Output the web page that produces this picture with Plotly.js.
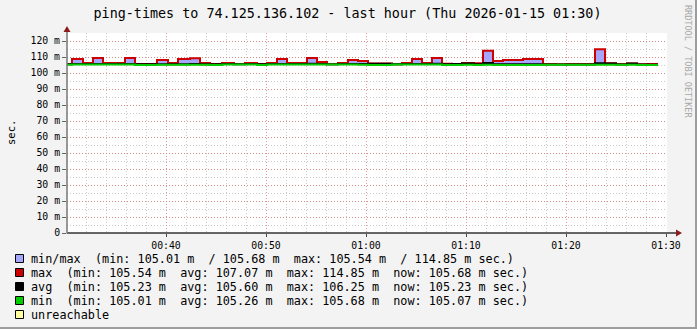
<!DOCTYPE html>
<html><head><meta charset="utf-8">
<script src="https://cdn.plot.ly/plotly-3.0.1.min.js"></script>
<style>
html,body{margin:0;padding:0;background:#f3f3f3;}
#chart{width:695px;height:327px;border-right:2px solid #9d9d9d;border-bottom:2px solid #9d9d9d;}
</style></head>
<body><div id="chart"></div>
<script>
const day = '2026-01-15 ';
// segment start times (last entry = end of last segment)
const times = ['00:30:06','00:30:36','00:31:42','00:32:42','00:33:42','00:35:54','00:36:54','00:39:06','00:40:12','00:41:12',
  '00:42:24','00:43:24','00:44:24','00:45:36','00:46:48','00:47:54','00:49:06','00:50:06','00:51:06','00:52:06',
  '00:54:06','00:55:06','00:56:06','00:57:12','00:58:12','00:59:12','01:00:12','01:02:36','01:03:36','01:04:36',
  '01:05:36','01:06:36','01:07:36','01:08:36','01:09:36','01:10:48','01:11:42','01:12:42','01:13:42','01:15:42',
  '01:17:42','01:19:00','01:20:00','01:22:54','01:23:54','01:25:00','01:26:06','01:27:06','01:28:12','01:29:12'];
const minV = [105.2,105.3,105.3,105.3,105.3,105.3,105.0,105.1,105.1,105.1,
  105.1,105.1,105.0,105.3,105.3,105.3,105.0,105.3,105.3,105.3,
  105.3,105.3,105.3,105.3,105.3,105.1,105.0,105.3,105.3,105.3,
  105.3,105.3,105.0,105.0,105.1,105.0,105.1,105.0,105.0,105.0,
  105.1,105.1,105.2,105.1,105.1,105.1,105.1,105.0,105.07];
const avgV = [105.5,105.6,105.6,105.6,105.6,105.7,105.4,105.5,105.5,105.5,
  105.6,105.5,105.5,105.6,105.5,105.6,105.5,105.6,105.7,105.6,
  105.8,105.7,105.4,105.6,105.7,105.6,105.8,105.4,105.6,105.7,
  105.6,105.8,105.5,105.6,105.9,105.4,106.25,105.5,105.5,105.5,
  105.3,105.3,105.3,106.1,106.0,105.3,105.9,105.3,105.23];
const maxV = [105.6,108.7,106.2,109.4,106.2,109.4,105.6,108.1,106.2,108.7,
  109.2,106.2,105.6,106.3,105.6,106.2,105.6,106.2,108.7,106.2,
  109.4,106.9,105.5,106.2,108.1,107.5,105.9,105.5,106.2,108.7,
  106.2,109.4,105.8,105.7,106.2,106.1,113.9,107.5,108.1,108.7,
  105.6,105.4,105.6,114.85,106.1,105.7,106.0,105.4,105.68];
const yTickVals = [0,10,20,30,40,50,60,70,80,90,100,110,120];
const yTickText = ['0','10 m','20 m','30 m','40 m','50 m','60 m','70 m','80 m','90 m','100 m','110 m','120 m'];
const titleText = 'ping-times to 74.125.136.102 - last hour (Thu 2026-01-15 01:30)';
const legendLabels = [
  'min/max  (min: 105.01 m  / 105.68 m  max: 105.54 m  / 114.85 m sec.)',
  'max  (min: 105.54 m  avg: 107.07 m  max: 114.85 m  now: 105.68 m sec.)',
  'avg  (min: 105.23 m  avg: 105.60 m  max: 106.25 m  now: 105.23 m sec.)',
  'min  (min: 105.01 m  avg: 105.26 m  max: 105.68 m  now: 105.07 m sec.)',
  'unreachable'];
const legendColors = ['#a6a6ff','#cc0000','#000000','#00cc00','#ffffa0'];
const watermark = 'RRDTOOL / TOBI OETIKER';
const yTitle = 'sec.';

const F = 'DejaVu Sans Mono';
const x = times.map(t => day + t);
const ext = a => a.concat([a[a.length-1]]);
const traces = [
  {x, y: ext(minV), mode:'lines', line:{width:0, shape:'hv'}, hoverinfo:'skip'},
  {x, y: ext(maxV), mode:'lines', fill:'tonexty', fillcolor:legendColors[0], line:{color:legendColors[1], width:2, shape:'hv'}},
  {x, y: ext(avgV), mode:'lines', line:{color:legendColors[2], width:2, shape:'hv'}},
  {x, y: ext(minV), mode:'lines', line:{color:legendColors[3], width:2, shape:'hv'}}
];
const L = 67, T = 33, PW = 600, PH = 200;
const fx = v => (v - L) / PW;
const fy = v => (T + PH - v) / PH;
const nb = s => s.replace(/ /g, '\u00A0');

const shapes = [];
const annotations = [];
// axes
shapes.push({type:'line', xref:'paper', yref:'paper', x0:fx(67), x1:fx(677), y0:fy(233), y1:fy(233), line:{color:'#333', width:1.5}});
shapes.push({type:'line', xref:'paper', yref:'paper', x0:fx(67), x1:fx(67), y0:fy(233.5), y1:fy(31), line:{color:'#777', width:1.5}});
shapes.push({type:'path', xref:'paper', yref:'paper',
  path:`M ${fx(63.5)} ${fy(32)} L ${fx(70.5)} ${fy(32)} L ${fx(67)} ${fy(26)} Z`, fillcolor:'#8c1c1c', line:{width:0}});
shapes.push({type:'path', xref:'paper', yref:'paper',
  path:`M ${fx(676)} ${fy(229.5)} L ${fx(676)} ${fy(236.5)} L ${fx(682)} ${fy(233)} Z`, fillcolor:'#8c1c1c', line:{width:0}});
// legend
const rows = [259, 273, 287, 301, 315];
legendLabels.forEach((lab, i) => {
  const cy = rows[i];
  shapes.push({type:'rect', xref:'paper', yref:'paper', x0:fx(15.5), x1:fx(23.5), y0:fy(cy-4.5), y1:fy(cy+3.5),
    fillcolor:legendColors[i], line:{color:'#000', width:1}});
  annotations.push({xref:'paper', yref:'paper', x:fx(28.5), y:fy(cy), xanchor:'left', yanchor:'middle',
    text:nb(lab), showarrow:false, font:{family:F, size:11.8, color:'#000'}});
});
annotations.push({xref:'paper', yref:'paper', x:fx(11), y:fy(133), text:yTitle, textangle:-90, showarrow:false,
  xanchor:'center', yanchor:'middle', font:{family:F, size:10.5, color:'#000'}});
annotations.push({xref:'paper', yref:'paper', x:fx(688), y:fy(61), text:nb(watermark), textangle:90, showarrow:false,
  xanchor:'center', yanchor:'middle', font:{family:F, size:8.5, color:'#a8a8a8'}});

const majorGrid = 'rgba(215,120,120,0.75)';
const minorGrid = 'rgba(190,190,190,0.8)';
const layout = {
  width:695, height:327,
  margin:{l:L, r:695-L-PW, t:T, b:327-T-PH, pad:0},
  paper_bgcolor:'#f3f3f3', plot_bgcolor:'#ffffff',
  showlegend:false,
  font:{family:F, size:10, color:'#000'},
  title:{text:titleText, font:{family:F, size:13.4, color:'#000'}, x:0.5, xanchor:'center', xref:'container',
    y:1-13/327, yanchor:'middle', yref:'container'},
  xaxis:{type:'date', range:[day+'00:30:06', day+'01:30:06'], tick0:day+'00:40:00', dtick:600000, tickformat:'%H:%M',
    showgrid:true, gridcolor:majorGrid, griddash:'1px,2px', gridwidth:1,
    minor:{dtick:120000, tick0:day+'00:30:00', showgrid:true, gridcolor:minorGrid, griddash:'1px,2px', gridwidth:1},
    ticks:'outside', ticklen:3, tickcolor:'#444', showline:false, zeroline:false,
    tickfont:{family:F, size:9.8, color:'#000'}, fixedrange:true},
  yaxis:{range:[0,125], tickmode:'array', tickvals:yTickVals, ticktext:yTickText,
    showgrid:true, gridcolor:majorGrid, griddash:'1px,2px', gridwidth:1,
    minor:{tickmode:'linear', tick0:0, dtick:5, showgrid:true, gridcolor:minorGrid, griddash:'1px,2px', gridwidth:1},
    ticks:'outside', ticklen:4, tickcolor:'#666', showline:false, zeroline:false,
    tickfont:{family:F, size:9.8, color:'#000'}, fixedrange:true},
  shapes, annotations
};
Plotly.newPlot('chart', traces, layout, {staticPlot:true, displayModeBar:false});
</script>
</body></html>
